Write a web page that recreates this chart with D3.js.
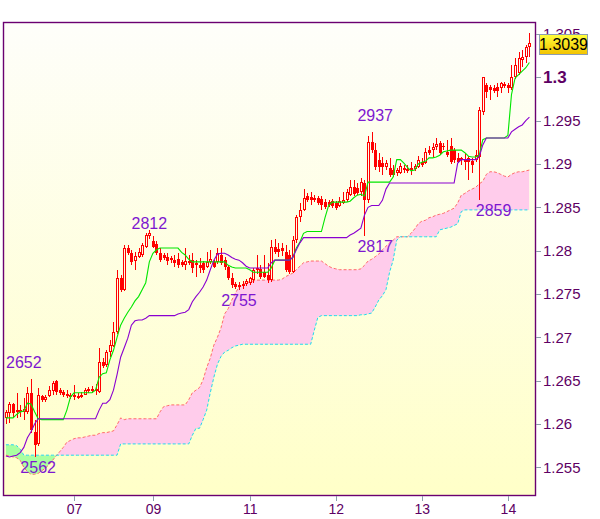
<!DOCTYPE html>
<html><head><meta charset="utf-8">
<script src="https://cdn.jsdelivr.net/npm/d3@7"></script>
<style>
html,body{margin:0;padding:0;background:#fff;}
svg{display:block;font-family:"Liberation Sans",Arial,Helvetica,sans-serif;}
</style></head><body>
<svg id="chart" width="600" height="519"></svg>
<script>
// ---------- data ----------
const dayTicks = [19, 41, 68, 92, 116, 140];
const dayLabels = ["07", "09", "11", "12", "13", "14"];
const priceTicks = [1.255, 1.26, 1.265, 1.27, 1.275, 1.28, 1.285, 1.29, 1.295, 1.3, 1.305];
const priceTickLabels = ["1.255", "1.26", "1.265", "1.27", "1.275", "1.28", "1.285", "1.29", "1.295", "1.3", "1.305"];

const open = [
1.2607,1.2613,1.2623,1.2614,1.2616,1.2614,1.2614,1.2636,1.2591,1.2577,
1.2632,1.2628,1.2632,1.2638,1.2650,1.2639,1.2637,1.2635,1.2633,1.2631,
1.2630,1.2631,1.2634,1.2638,1.2638,1.2640,1.2637,1.2672,1.2668,1.2683,
1.2690,1.2706,1.2768,1.2755,1.2803,1.2797,1.2788,1.2793,1.2795,1.2804,
1.2817,1.2811,1.2808,1.2797,1.2795,1.2793,1.2791,1.2789,1.2790,1.2787,
1.2783,1.2788,1.2789,1.2783,1.2783,1.2786,1.2781,1.2787,1.2787,1.2787,
1.2795,1.2789,1.2781,1.2769,1.2762,1.2760,1.2762,1.2762,1.2763,1.2766,
1.2778,1.2779,1.2775,1.2772,1.2766,1.2804,1.2802,1.2803,1.2798,1.2795,
1.2775,1.2812,1.2839,1.2847,1.2863,1.2862,1.2861,1.2861,1.2860,1.2856,
1.2856,1.2857,1.2855,1.2852,1.2855,1.2858,1.2864,1.2873,1.2872,1.2868,
1.2878,1.2858,1.2925,1.2916,1.2905,1.2901,1.2897,1.2895,1.2893,1.2889,
1.2889,1.2895,1.2892,1.2895,1.2894,1.2896,1.2902,1.2901,1.2916,1.2916,
1.2919,1.2924,1.2921,1.2914,1.2921,1.2916,1.2907,1.2907,1.2905,1.2907,
1.2903,1.2905,1.2908,1.2960,1.2991,1.2989,1.2988,1.2989,1.2988,1.2990,
1.2991,1.2988,1.3000,1.3005,1.3020,1.3023,1.3035];
const high = [
1.2616,1.2625,1.2624,1.2636,1.2622,1.2630,1.2643,1.2652,1.2605,1.2642,
1.2634,1.2633,1.2644,1.2650,1.2651,1.2642,1.2639,1.2639,1.2636,1.2645,
1.2636,1.2637,1.2642,1.2643,1.2644,1.2646,1.2688,1.2676,1.2685,1.2697,
1.2718,1.2778,1.2772,1.2806,1.2806,1.2801,1.2798,1.2803,1.2809,1.2820,
1.2824,1.2817,1.2811,1.2803,1.2797,1.2797,1.2794,1.2795,1.2797,1.2789,
1.2803,1.2795,1.2797,1.2789,1.2791,1.2788,1.2798,1.2801,1.2789,1.2803,
1.2803,1.2793,1.2783,1.2774,1.2764,1.2764,1.2765,1.2767,1.2770,1.2780,
1.2795,1.2783,1.2795,1.2786,1.2812,1.2814,1.2809,1.2809,1.2806,1.2801,
1.2817,1.2841,1.2855,1.2871,1.2866,1.2868,1.2864,1.2863,1.2863,1.2860,
1.2858,1.2860,1.2857,1.2862,1.2868,1.2871,1.2882,1.2882,1.2878,1.2884,
1.2882,1.2932,1.2937,1.2924,1.2913,1.2908,1.2905,1.2907,1.2899,1.2895,
1.2901,1.2899,1.2899,1.2902,1.2900,1.2909,1.2907,1.2918,1.2921,1.2924,
1.2930,1.2927,1.2924,1.2928,1.2930,1.2918,1.2913,1.2908,1.2913,1.2909,
1.2907,1.2916,1.2966,1.3000,1.2993,1.2991,1.2991,1.2993,1.2995,1.2995,
1.2993,1.3014,1.3022,1.3029,1.3032,1.3037,1.3051];
const low = [
1.2600,1.2601,1.2607,1.2607,1.2608,1.2605,1.2611,1.2590,1.2562,1.2575,
1.2625,1.2625,1.2631,1.2634,1.2634,1.2633,1.2631,1.2630,1.2629,1.2628,
1.2629,1.2630,1.2633,1.2636,1.2636,1.2634,1.2636,1.2665,1.2666,1.2677,
1.2689,1.2704,1.2752,1.2753,1.2795,1.2783,1.2778,1.2792,1.2793,1.2803,
1.2814,1.2803,1.2795,1.2787,1.2789,1.2783,1.2786,1.2781,1.2780,1.2781,
1.2778,1.2783,1.2774,1.2770,1.2774,1.2774,1.2780,1.2785,1.2780,1.2785,
1.2783,1.2778,1.2766,1.2757,1.2756,1.2755,1.2756,1.2759,1.2760,1.2763,
1.2773,1.2767,1.2768,1.2763,1.2764,1.2796,1.2793,1.2794,1.2775,1.2773,
1.2774,1.2809,1.2833,1.2846,1.2856,1.2853,1.2856,1.2853,1.2847,1.2848,
1.2850,1.2849,1.2847,1.2850,1.2854,1.2856,1.2863,1.2863,1.2864,1.2863,
1.2817,1.2855,1.2913,1.2893,1.2891,1.2887,1.2893,1.2885,1.2885,1.2886,
1.2888,1.2889,1.2889,1.2887,1.2892,1.2895,1.2896,1.2900,1.2910,1.2908,
1.2916,1.2910,1.2916,1.2908,1.2900,1.2901,1.2901,1.2899,1.2893,1.2882,
1.2889,1.2902,1.2859,1.2956,1.2976,1.2974,1.2982,1.2977,1.2982,1.2988,
1.2982,1.2985,1.2998,1.3003,1.3012,1.3016,1.3023];
const close = [
1.2614,1.2623,1.2613,1.2616,1.2614,1.2617,1.2636,1.2593,1.2576,1.2633,
1.2628,1.2631,1.2639,1.2647,1.2637,1.2636,1.2633,1.2632,1.2631,1.2633,
1.2632,1.2634,1.2639,1.2640,1.2640,1.2638,1.2672,1.2667,1.2683,1.2691,
1.2706,1.2768,1.2755,1.2803,1.2797,1.2787,1.2794,1.2798,1.2806,1.2818,
1.2820,1.2804,1.2797,1.2789,1.2791,1.2788,1.2789,1.2786,1.2783,1.2783,
1.2788,1.2786,1.2780,1.2786,1.2780,1.2778,1.2787,1.2790,1.2781,1.2797,
1.2786,1.2781,1.2768,1.2760,1.2758,1.2758,1.2759,1.2765,1.2768,1.2778,
1.2780,1.2770,1.2770,1.2766,1.2804,1.2798,1.2798,1.2800,1.2778,1.2775,
1.2812,1.2839,1.2847,1.2861,1.2858,1.2858,1.2858,1.2855,1.2853,1.2850,
1.2853,1.2852,1.2849,1.2857,1.2858,1.2868,1.2873,1.2865,1.2866,1.2879,
1.2858,1.2925,1.2916,1.2896,1.2896,1.2896,1.2901,1.2887,1.2887,1.2893,
1.2898,1.2893,1.2894,1.2893,1.2898,1.2905,1.2899,1.2914,1.2913,1.2919,
1.2923,1.2913,1.2919,1.2910,1.2902,1.2905,1.2902,1.2905,1.2902,1.2902,
1.2899,1.2910,1.2962,1.3000,1.2983,1.2985,1.2984,1.2984,1.2993,1.2992,
1.2988,1.3000,1.3014,1.3022,1.3023,1.3035,1.3039];

const tenkan = [
1.2607,1.2607,1.2607,1.2611,1.2614,1.2615,1.2624,1.2623,1.2614,1.2606,
1.2605,1.2605,1.2605,1.2605,1.2605,1.2605,1.2605,1.2616,1.2631,1.2636,
1.2636,1.2636,1.2636,1.2636,1.2636,1.2639,1.2654,1.2658,1.2659,1.2674,
1.2685,1.2700,1.2714,1.2722,1.2729,1.2735,1.2742,1.2747,1.2755,1.2763,
1.2787,1.2797,1.2801,1.2803,1.2803,1.2803,1.2803,1.2803,1.2803,1.2798,
1.2795,1.2790,1.2787,1.2787,1.2787,1.2787,1.2787,1.2787,1.2787,1.2787,
1.2787,1.2787,1.2783,1.2781,1.2780,1.2780,1.2780,1.2780,1.2778,1.2775,
1.2775,1.2775,1.2775,1.2775,1.2780,1.2789,1.2789,1.2789,1.2789,1.2789,
1.2792,1.2803,1.2810,1.2820,1.2822,1.2822,1.2822,1.2822,1.2822,1.2838,
1.2852,1.2856,1.2856,1.2856,1.2856,1.2856,1.2857,1.2861,1.2864,1.2865,
1.2863,1.2879,1.2879,1.2879,1.2879,1.2879,1.2879,1.2879,1.2885,1.2905,
1.2905,1.2901,1.2896,1.2892,1.2893,1.2900,1.2902,1.2903,1.2907,1.2907,
1.2908,1.2910,1.2914,1.2915,1.2916,1.2916,1.2916,1.2916,1.2913,1.2909,
1.2908,1.2908,1.2910,1.2928,1.2930,1.2930,1.2930,1.2930,1.2930,1.2930,
1.2933,1.2980,1.2999,1.3003,1.3007,1.3011,1.3017];
const kijun = [
1.2563,1.2562,1.2563,1.2564,1.2567,1.2573,1.2584,1.2591,1.2600,1.2606,
1.2606,1.2606,1.2606,1.2606,1.2606,1.2606,1.2606,1.2606,1.2606,1.2606,
1.2606,1.2606,1.2606,1.2606,1.2606,1.2606,1.2616,1.2624,1.2624,1.2628,
1.2639,1.2657,1.2677,1.2688,1.2699,1.2714,1.2719,1.2720,1.2720,1.2722,
1.2725,1.2725,1.2725,1.2725,1.2725,1.2725,1.2725,1.2725,1.2727,1.2728,
1.2729,1.2732,1.2741,1.2747,1.2752,1.2758,1.2766,1.2778,1.2789,1.2796,
1.2797,1.2797,1.2795,1.2792,1.2790,1.2789,1.2786,1.2782,1.2780,1.2780,
1.2780,1.2780,1.2780,1.2780,1.2786,1.2789,1.2789,1.2789,1.2789,1.2789,
1.2792,1.2801,1.2809,1.2815,1.2815,1.2815,1.2815,1.2815,1.2815,1.2815,
1.2815,1.2815,1.2815,1.2815,1.2815,1.2815,1.2818,1.2820,1.2823,1.2826,
1.2841,1.2850,1.2852,1.2852,1.2852,1.2858,1.2871,1.2878,1.2878,1.2878,
1.2878,1.2878,1.2878,1.2878,1.2878,1.2878,1.2878,1.2878,1.2878,1.2878,
1.2878,1.2878,1.2878,1.2878,1.2878,1.2878,1.2901,1.2905,1.2905,1.2905,
1.2905,1.2905,1.2908,1.2922,1.2930,1.2930,1.2930,1.2930,1.2930,1.2930,
1.2930,1.2937,1.2940,1.2943,1.2945,1.2950,1.2954];
const spanA = [
1.2564,1.2563,1.2562,1.2561,1.2558,1.2550,1.2545,1.2542,1.2542,1.2543,
1.2546,1.2549,1.2553,1.2558,1.2563,1.2568,1.2573,1.2579,1.2581,1.2583,
1.2584,1.2584,1.2585,1.2586,1.2587,1.2587,1.2589,1.2590,1.2590,1.2591,
1.2592,1.2599,1.2607,1.2605,1.2606,1.2606,1.2606,1.2606,1.2606,1.2606,
1.2606,1.2606,1.2606,1.2614,1.2620,1.2621,1.2622,1.2622,1.2622,1.2622,
1.2622,1.2628,1.2636,1.2639,1.2642,1.2651,1.2665,1.2676,1.2691,1.2700,
1.2711,1.2727,1.2733,1.2743,1.2751,1.2758,1.2760,1.2763,1.2764,1.2765,
1.2766,1.2766,1.2766,1.2766,1.2766,1.2766,1.2766,1.2767,1.2770,1.2772,
1.2774,1.2778,1.2782,1.2786,1.2787,1.2788,1.2788,1.2788,1.2788,1.2785,
1.2782,1.2780,1.2779,1.2778,1.2778,1.2778,1.2778,1.2778,1.2778,1.2779,
1.2783,1.2788,1.2790,1.2793,1.2796,1.2801,1.2805,1.2809,1.2812,1.2816,
1.2816,1.2816,1.2816,1.2820,1.2825,1.2831,1.2834,1.2835,1.2838,1.2839,
1.2841,1.2842,1.2843,1.2845,1.2847,1.2849,1.2855,1.2864,1.2866,1.2869,
1.2871,1.2873,1.2877,1.2880,1.2888,1.2891,1.2891,1.2890,1.2888,1.2886,
1.2885,1.2888,1.2890,1.2891,1.2891,1.2892,1.2893];
const spanB = [
1.2576,1.2576,1.2576,1.2575,1.2571,1.2564,1.2564,1.2564,1.2564,1.2564,
1.2564,1.2564,1.2564,1.2564,1.2564,1.2564,1.2564,1.2564,1.2564,1.2564,
1.2564,1.2564,1.2564,1.2564,1.2564,1.2564,1.2564,1.2564,1.2564,1.2564,
1.2564,1.2564,1.2577,1.2577,1.2577,1.2577,1.2577,1.2577,1.2577,1.2577,
1.2577,1.2577,1.2577,1.2577,1.2577,1.2577,1.2577,1.2577,1.2577,1.2577,
1.2577,1.2577,1.2587,1.2595,1.2595,1.2605,1.2616,1.2636,1.2654,1.2669,
1.2678,1.2683,1.2685,1.2688,1.2690,1.2691,1.2692,1.2692,1.2692,1.2692,
1.2692,1.2692,1.2692,1.2692,1.2692,1.2692,1.2692,1.2692,1.2692,1.2692,
1.2692,1.2692,1.2692,1.2692,1.2692,1.2692,1.2708,1.2723,1.2725,1.2725,
1.2725,1.2725,1.2725,1.2725,1.2725,1.2725,1.2725,1.2725,1.2725,1.2726,
1.2726,1.2727,1.2728,1.2735,1.2743,1.2748,1.2755,1.2775,1.2789,1.2812,
1.2816,1.2816,1.2816,1.2816,1.2816,1.2816,1.2816,1.2816,1.2816,1.2816,
1.2816,1.2824,1.2825,1.2826,1.2827,1.2829,1.2831,1.2845,1.2847,1.2847,
1.2847,1.2847,1.2847,1.2847,1.2847,1.2847,1.2847,1.2847,1.2847,1.2847,
1.2847,1.2847,1.2847,1.2847,1.2847,1.2847,1.2847];

const swingTexts  = ["2652", "2562", "2812", "2755", "2937", "2817", "2859"];
const swingBars   = [5, 9, 40, 65, 103, 103, 136];
const swingPrices = [1.2652, 1.2562, 1.2812, 1.2755, 1.2937, 1.2817, 1.2859];
const swingSides  = ["above", "below", "above", "below", "above", "below", "below"];

// ---------- chart ----------
const svg = d3.select("#chart");
const P = {left: 3, top: 22, right: 536, bottom: 496};
const n = open.length;
const x = d3.scaleLinear().domain([0, n - 1]).range([5.9, 529.4]);
const y = d3.scaleLinear().domain([1.25169, 1.30638]).range([P.bottom, P.top]);

const defs = svg.append("defs");
const bg = defs.append("linearGradient").attr("id", "bg").attr("x1", 0).attr("y1", 0).attr("x2", 0).attr("y2", 1);
bg.append("stop").attr("offset", 0).attr("stop-color", "#fefefa");
bg.append("stop").attr("offset", 1).attr("stop-color", "#ffffc8");
const bx = defs.append("linearGradient").attr("id", "boxg").attr("x1", 0).attr("y1", 0).attr("x2", 0).attr("y2", 1);
bx.append("stop").attr("offset", 0).attr("stop-color", "#ffff3a");
bx.append("stop").attr("offset", 1).attr("stop-color", "#f2c200");
defs.append("clipPath").attr("id", "plotClip").append("rect")
  .attr("x", P.left).attr("y", P.top).attr("width", P.right - P.left).attr("height", P.bottom - P.top);

const idx = d3.range(n);
defs.append("clipPath").attr("id", "aboveB").append("path")
  .attr("d", d3.area().x(i => x(i)).y0(P.top - 5).y1(i => y(spanB[i]))(idx));
defs.append("clipPath").attr("id", "belowB").append("path")
  .attr("d", d3.area().x(i => x(i)).y0(P.bottom + 5).y1(i => y(spanB[i]))(idx));

svg.append("rect").attr("x", P.left).attr("y", P.top)
  .attr("width", P.right - P.left).attr("height", P.bottom - P.top).attr("fill", "url(#bg)");

const plot = svg.append("g").attr("clip-path", "url(#plotClip)");

// cloud
const cloud = d3.area().x(i => x(i)).y0(i => y(spanB[i])).y1(i => y(spanA[i]));
plot.append("path").attr("d", cloud(idx)).attr("fill", "#ffcceb").attr("clip-path", "url(#aboveB)");
plot.append("path").attr("d", cloud(idx)).attr("fill", "#aaffa0").attr("clip-path", "url(#belowB)");
plot.append("path").attr("d", d3.line().x(i => x(i)).y(i => y(spanA[i]))(idx))
  .attr("fill", "none").attr("stroke", "#ff6a6a").attr("stroke-width", 1).attr("stroke-dasharray", "3,2");
plot.append("path").attr("d", d3.line().x(i => x(i)).y(i => y(spanB[i]))(idx))
  .attr("fill", "none").attr("stroke", "#22d8f0").attr("stroke-width", 1).attr("stroke-dasharray", "3,2");

// candles
const bars = idx.map(i => ({i, o: open[i], h: high[i], l: low[i], c: close[i]}));
const cg = plot.append("g").attr("shape-rendering", "crispEdges");
const candle = cg.selectAll("g").data(bars).join("g");
candle.each(function(d) {
  const g = d3.select(this);
  const cx = Math.round(x(d.i));
  const top = Math.round(y(Math.max(d.o, d.c)));
  const bot = Math.round(y(Math.min(d.o, d.c)));
  const yh = Math.round(y(d.h)), yl = Math.round(y(d.l));
  const up = d.c > d.o;
  if (up) {
    g.append("line").attr("x1", cx + 0.5).attr("x2", cx + 0.5).attr("y1", yh).attr("y2", top).attr("stroke", "#ff0000");
    g.append("line").attr("x1", cx + 0.5).attr("x2", cx + 0.5).attr("y1", bot).attr("y2", yl).attr("stroke", "#ff0000");
    if (bot - top >= 2) {
      g.append("rect").attr("x", cx - 0.5).attr("y", top + 0.5).attr("width", 2).attr("height", bot - top - 1)
        .attr("fill", "none").attr("stroke", "#ff0000");
    } else {
      g.append("rect").attr("x", cx - 1).attr("y", top).attr("width", 3).attr("height", Math.max(1, bot - top)).attr("fill", "#ff0000");
    }
  } else {
    g.append("line").attr("x1", cx + 0.5).attr("x2", cx + 0.5).attr("y1", yh).attr("y2", yl).attr("stroke", "#ff0000");
    g.append("rect").attr("x", cx - 1).attr("y", top).attr("width", 3).attr("height", Math.max(1, bot - top)).attr("fill", "#ff0000");
  }
});

// tenkan / kijun
plot.append("path").attr("d", d3.line().x(i => x(i)).y(i => y(tenkan[i]))(idx))
  .attr("fill", "none").attr("stroke", "#00e600").attr("stroke-width", 1.1);
plot.append("path").attr("d", d3.line().x(i => x(i)).y(i => y(kijun[i]))(idx))
  .attr("fill", "none").attr("stroke", "#8a00d0").attr("stroke-width", 1.1);

// swing labels
plot.selectAll("text.swing").data(swingTexts).join("text").attr("class", "swing")
  .attr("x", (t, k) => x(swingBars[k]))
  .attr("y", (t, k) => swingSides[k] === "above" ? y(swingPrices[k]) - 11 : y(swingPrices[k]) + 16)
  .attr("text-anchor", "middle").attr("font-size", 16).attr("fill", "#7d17d0")
  .text(t => t);

// frame
svg.append("rect").attr("x", P.left + 0.5).attr("y", P.top + 0.5)
  .attr("width", P.right - P.left - 1).attr("height", P.bottom - P.top - 1)
  .attr("fill", "none").attr("stroke", "#6a0070").attr("stroke-width", 1.4);

// y axis
const yAxis = d3.axisRight(y).tickValues(priceTicks).tickSize(5).tickPadding(2)
  .tickFormat((v, k) => priceTickLabels[k]);
const ya = svg.append("g").attr("transform", `translate(${P.right},0)`).call(yAxis);
ya.select(".domain").remove();
ya.selectAll(".tick line").attr("stroke", "#8c9cac").attr("shape-rendering", "crispEdges");
ya.selectAll(".tick text").attr("fill", "#5e0064").attr("font-size", 15)
  .attr("font-family", "'Liberation Sans',Arial,sans-serif")
  .filter((v, k) => priceTickLabels[k] === "1.3").attr("font-weight", "bold").attr("font-size", 17);

// x axis
const xAxis = d3.axisBottom(x).tickValues(dayTicks).tickSize(5).tickPadding(3)
  .tickFormat((v, k) => dayLabels[k]);
const xa = svg.append("g").attr("transform", `translate(0,${P.bottom})`).call(xAxis);
xa.select(".domain").remove();
xa.selectAll(".tick line").attr("stroke", "#8c9cac").attr("shape-rendering", "crispEdges");
xa.selectAll(".tick text").attr("fill", "#5e0064").attr("font-size", 14)
  .attr("font-family", "'Liberation Sans',Arial,sans-serif");

// last price box
const last = close[n - 1];
const yb = y(last) + 1;
svg.append("rect").attr("x", 539.5).attr("y", Math.round(yb - 10) + 0.5).attr("width", 48).attr("height", 20)
  .attr("fill", "url(#boxg)").attr("stroke", "#8c9cb0").attr("stroke-width", 1);
svg.append("text").attr("x", 563.5).attr("y", Math.round(yb - 10) + 10.5)
  .attr("dominant-baseline", "central").attr("text-anchor", "middle")
  .attr("font-size", 16).attr("fill", "#000").text(last.toFixed(4));
</script>
</body></html>
